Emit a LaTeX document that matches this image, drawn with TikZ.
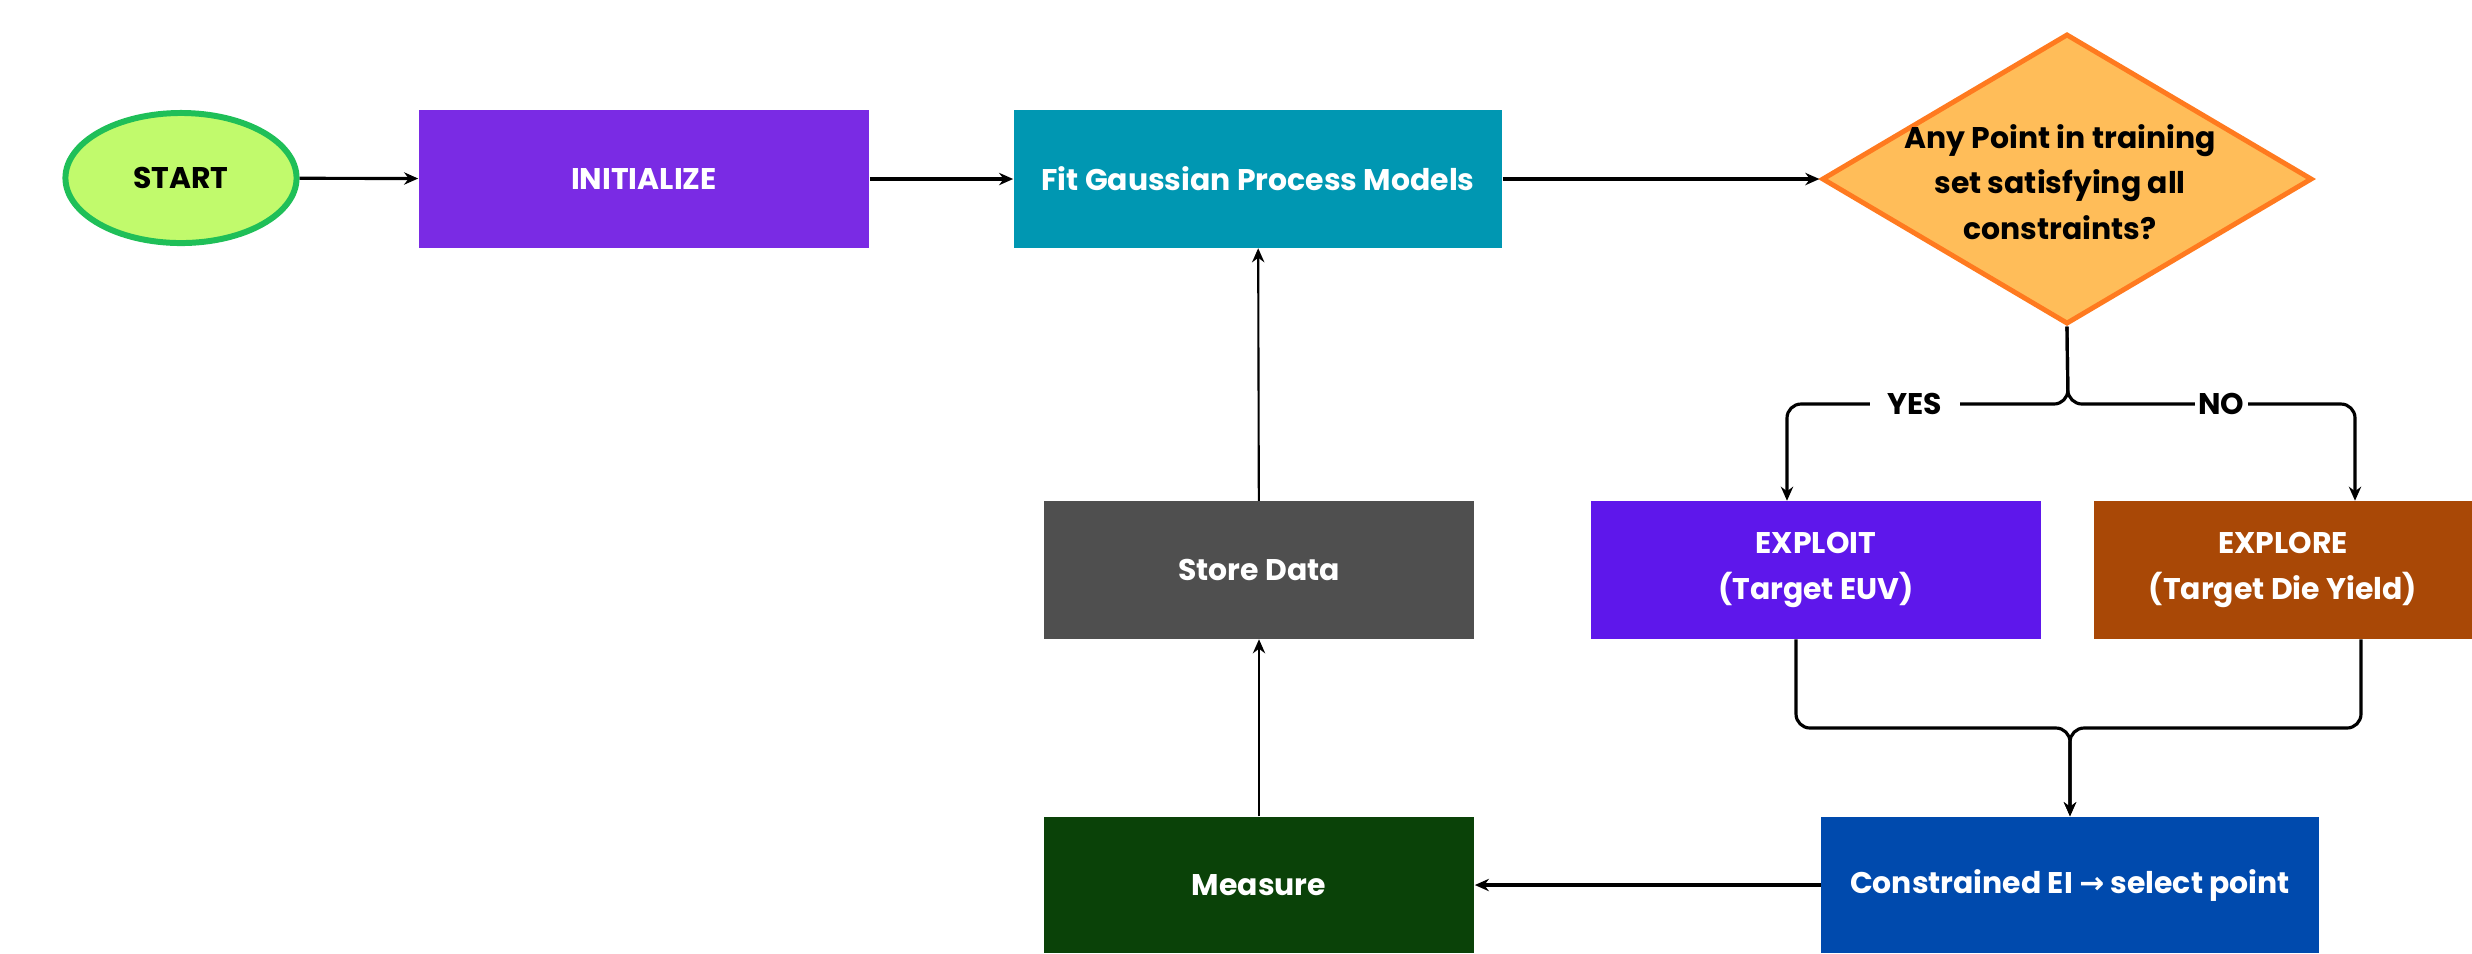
\documentclass[tikz,border=0pt]{standalone}
\usepackage{fontspec}
\setmainfont{Poppins}
\newfontfamily\symfont{DejaVu Sans}
\usetikzlibrary{shapes.geometric,arrows.meta,calc}
\definecolor{cstartf}{HTML}{C1FA6C}
\definecolor{cstartd}{HTML}{1FBF58}
\definecolor{cinit}{HTML}{7A2BE4}
\definecolor{cgp}{HTML}{0097B2}
\definecolor{cdf}{HTML}{FFBD59}
\definecolor{cdd}{HTML}{FF7A1F}
\definecolor{cstore}{HTML}{4F4F4F}
\definecolor{cexploit}{HTML}{5E17EB}
\definecolor{cexplore}{HTML}{A94806}
\definecolor{cmeasure}{HTML}{0A4208}
\definecolor{cei}{HTML}{004AAD}
\begin{document}
\begin{tikzpicture}[x=0.01cm,y=-0.01cm,
  txt/.style={font=\bfseries\fontsize{8.5}{13}\selectfont, align=center},
  box/.style={txt, rectangle, draw=none, text=white, inner sep=0pt, minimum height=1.37cm},
  conn/.style={line width=0.9pt, -{Stealth[length=4pt,width=3.5pt]}},
  connthin/.style={line width=0.6pt, -{Stealth[length=4pt,width=3.5pt]}},
  lab/.style={txt, fill=white, text=black, inner ysep=1pt}]
\useasboundingbox (0,0) rectangle (2472,953);
\node[txt, ellipse, draw=cstartd, fill=cstartf, line width=1.7pt, minimum width=2.31cm, minimum height=1.30cm, inner sep=0pt] (start) at (181,178) {START};
\node[box, fill=cinit, minimum width=4.5cm] (init) at (644,179) {INITIALIZE};
\node[box, fill=cgp, minimum width=4.88cm] (gp) at (1258,179) {Fit Gaussian Process Models};
\node[diamond, draw=cdd, fill=cdf, line width=1.4pt, minimum width=4.9cm, minimum height=2.9cm, inner sep=0pt] (dq) at (2067,179) {};
\node[txt, text=black] (dqt) at (2060,182) {Any Point in training\\set satisfying all\\constraints?};
\node[box, fill=cstore, minimum width=4.3cm] (store) at (1259,570) {Store Data};
\node[box, fill=cexploit, minimum width=4.49cm] (exploit) at (1816,570) {EXPLOIT\\(Target EUV)};
\node[box, fill=cexplore, minimum width=3.78cm] (explore) at (2283,570) {EXPLORE\\(Target Die Yield)};
\node[box, fill=cmeasure, minimum width=4.3cm, minimum height=1.36cm] (measure) at (1259,885) {Measure};
\node[box, fill=cei, minimum width=4.97cm, minimum height=1.36cm] (ei) at (2070,885) {Constrained EI {\symfont\bfseries →} select point};
\draw[conn] (start) -- (init);
\draw[conn] (init) -- (gp);
\draw[conn] (gp) -- (dq);
\draw[connthin] (store) -- (gp);
\draw[connthin] (measure) -- (store);
\draw[conn] (ei) -- (measure);
\coordinate (bt) at (2068,404);
\draw[conn, rounded corners=0.14cm] (dq.south) -- (bt) -| ($(exploit.north)+(-29,0)$);
\draw[conn, rounded corners=0.14cm] (dq.south) -- (bt) -| ($(explore.north)+(72,0)$);
\node[lab, inner xsep=5pt] (yes) at (1915,404) {YES};
\node[lab, inner xsep=1pt] (no) at (2221,404) {NO};
\coordinate (bb) at (2070,728);
\draw[conn, rounded corners=0.14cm] ($(exploit.south)+(-20,0)$) |- (bb) -- (ei.north);
\draw[conn, rounded corners=0.14cm] ($(explore.south)+(78,0)$) |- (bb) -- (ei.north);
\end{tikzpicture}
\end{document}
